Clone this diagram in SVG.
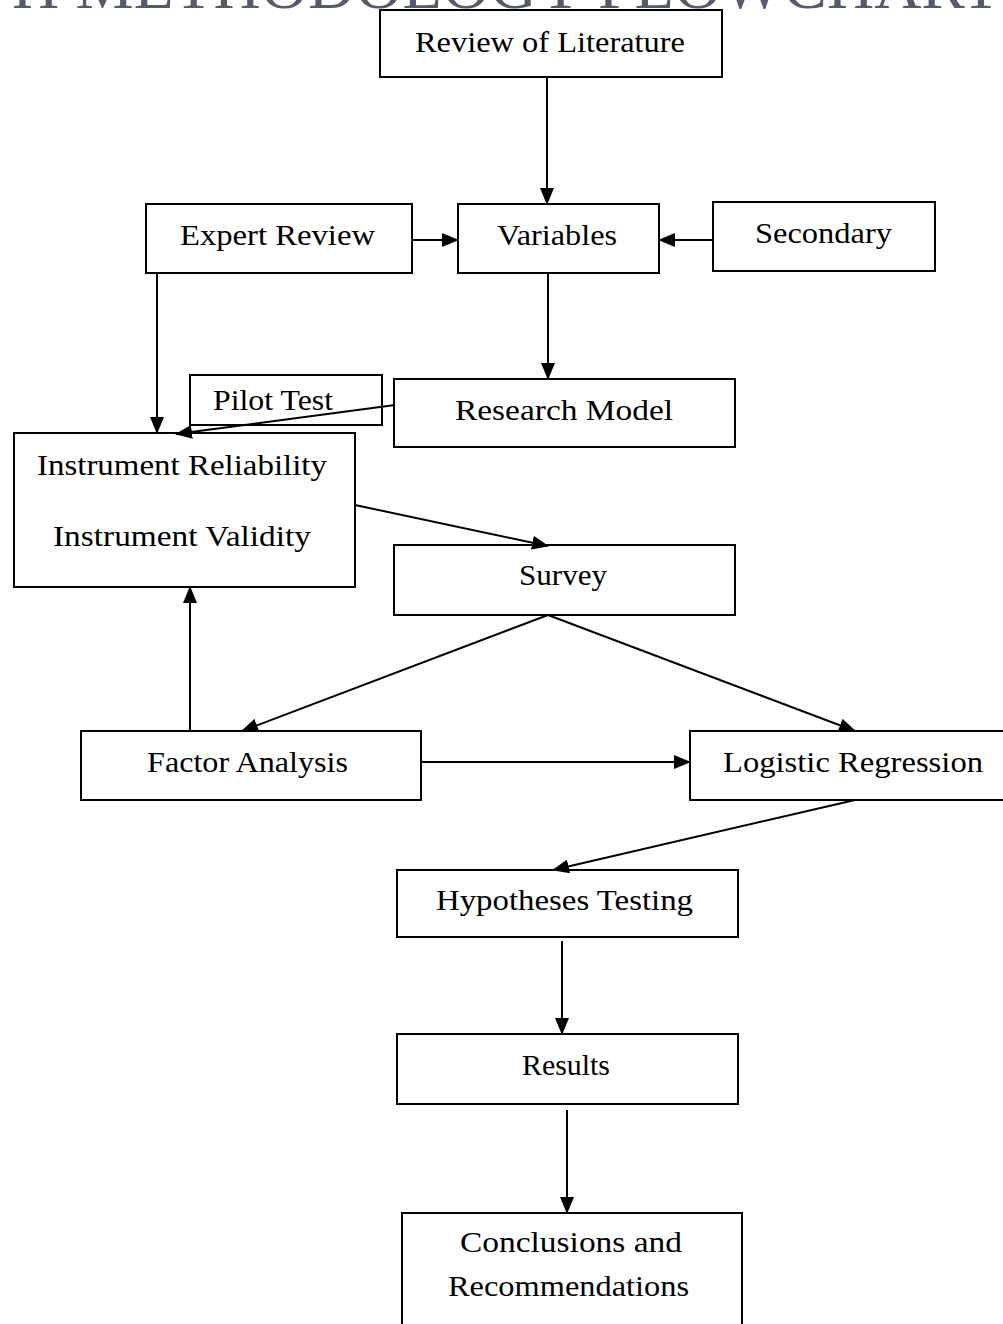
<svg xmlns="http://www.w3.org/2000/svg" width="1003" height="1324" viewBox="0 0 1003 1324">
  <defs>
    <marker id="arrow" markerUnits="userSpaceOnUse" markerWidth="17" markerHeight="14" refX="16" refY="7" orient="auto">
      <path d="M0,0 L17,7 L0,14 Z" fill="#000"/>
    </marker>
    <style>
      .box { fill: #fff; stroke: #000; stroke-width: 2; }
      .lbl { font-family: "Liberation Serif", "DejaVu Serif", serif; font-size: 30px; fill: #000; }
      .edge { stroke: #000; stroke-width: 2; fill: none; marker-end: url(#arrow); }
      .title { font-family: "Liberation Serif", "DejaVu Serif", serif; font-size: 65px; fill: #525c6a; }
    </style>
  </defs>
  <rect width="1003" height="1324" fill="#fff"/>

  <!-- heading, clipped by the top edge -->
  <text class="title" x="12" y="8" textLength="989" lengthAdjust="spacingAndGlyphs">H METHODOLOGY FLOWCHART</text>

  <g id="review-literature">
    <rect class="box" x="380" y="10" width="342" height="67"/>
    <text class="lbl" x="415" y="52" textLength="270" lengthAdjust="spacingAndGlyphs">Review  of Literature</text>
  </g>
  <g id="expert-review">
    <rect class="box" x="146" y="204" width="266" height="69"/>
    <text class="lbl" x="180" y="245" textLength="195" lengthAdjust="spacingAndGlyphs">Expert  Review</text>
  </g>
  <g id="variables">
    <rect class="box" x="458" y="204" width="201" height="69"/>
    <text class="lbl" x="497" y="245" textLength="120" lengthAdjust="spacingAndGlyphs">Variables</text>
  </g>
  <g id="secondary">
    <rect class="box" x="713" y="202" width="222" height="69"/>
    <text class="lbl" x="755" y="243" textLength="137" lengthAdjust="spacingAndGlyphs">Secondary</text>
  </g>
  <g id="pilot-test">
    <rect class="box" x="190" y="375" width="192" height="50"/>
    <text class="lbl" x="213" y="410" textLength="120" lengthAdjust="spacingAndGlyphs">Pilot Test</text>
  </g>
  <g id="research-model">
    <rect class="box" x="394" y="379" width="341" height="68"/>
    <text class="lbl" x="455" y="420" textLength="218" lengthAdjust="spacingAndGlyphs">Research  Model</text>
  </g>
  <g id="instrument">
    <rect class="box" x="14" y="433" width="341" height="154"/>
    <text class="lbl" x="37" y="475" textLength="290" lengthAdjust="spacingAndGlyphs">Instrument  Reliability</text>
    <text class="lbl" x="53" y="546" textLength="258" lengthAdjust="spacingAndGlyphs">Instrument  Validity</text>
  </g>
  <g id="survey">
    <rect class="box" x="394" y="545" width="341" height="70"/>
    <text class="lbl" x="519" y="585" textLength="88" lengthAdjust="spacingAndGlyphs">Survey</text>
  </g>
  <g id="factor-analysis">
    <rect class="box" x="81" y="731" width="340" height="69"/>
    <text class="lbl" x="147" y="772" textLength="201" lengthAdjust="spacingAndGlyphs">Factor Analysis</text>
  </g>
  <g id="logistic-regression">
    <rect class="box" x="690" y="731" width="330" height="69"/>
    <text class="lbl" x="723" y="772" textLength="260" lengthAdjust="spacingAndGlyphs">Logistic  Regression</text>
  </g>
  <g id="hypotheses-testing">
    <rect class="box" x="397" y="870" width="341" height="67"/>
    <text class="lbl" x="436" y="910" textLength="257" lengthAdjust="spacingAndGlyphs">Hypotheses  Testing</text>
  </g>
  <g id="results">
    <rect class="box" x="397" y="1034" width="341" height="70"/>
    <text class="lbl" x="522" y="1075" textLength="88" lengthAdjust="spacingAndGlyphs">Results</text>
  </g>
  <g id="conclusions">
    <rect class="box" x="402" y="1213" width="340" height="130"/>
    <text class="lbl" x="460" y="1252" textLength="222" lengthAdjust="spacingAndGlyphs">Conclusions   and</text>
    <text class="lbl" x="448" y="1296" textLength="241" lengthAdjust="spacingAndGlyphs">Recommendations</text>
  </g>

  <!-- connectors, drawn last so the Research Model line shows over the Pilot Test box -->
  <g id="connectors">
    <line class="edge" x1="547" y1="77" x2="547" y2="204"/>
    <line class="edge" x1="412" y1="240" x2="458" y2="240"/>
    <line class="edge" x1="713" y1="240" x2="659" y2="240"/>
    <line class="edge" x1="548" y1="273" x2="548" y2="379"/>
    <line class="edge" x1="157" y1="273" x2="157" y2="433"/>
    <line class="edge" x1="395" y1="405" x2="176" y2="434"/>
    <line class="edge" x1="355" y1="505" x2="548" y2="546"/>
    <line class="edge" x1="548" y1="615" x2="242" y2="731"/>
    <line class="edge" x1="548" y1="615" x2="855" y2="731"/>
    <line class="edge" x1="190" y1="731" x2="190" y2="587"/>
    <line class="edge" x1="421" y1="762" x2="690" y2="762"/>
    <line class="edge" x1="855" y1="800" x2="553" y2="870"/>
    <line class="edge" x1="562" y1="941" x2="562" y2="1034"/>
    <line class="edge" x1="567" y1="1110" x2="567" y2="1213"/>
  </g>
</svg>
